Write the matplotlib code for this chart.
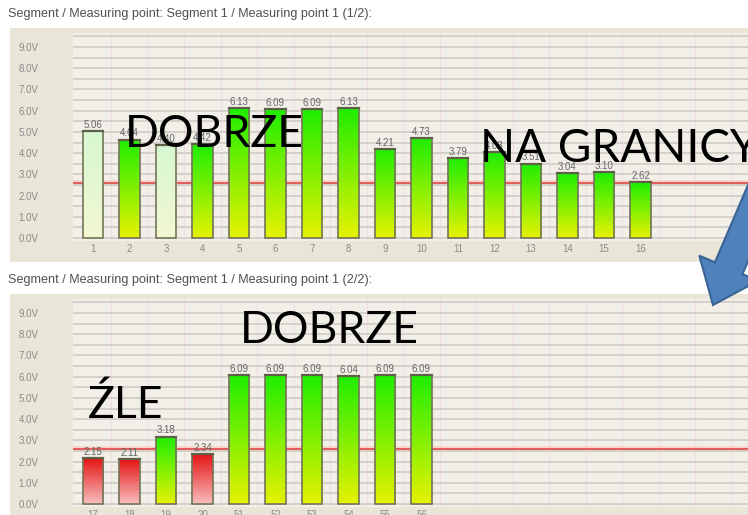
import numpy as np
import matplotlib.pyplot as plt
from matplotlib.patches import Rectangle, FancyArrow
from matplotlib.transforms import IdentityTransform

W, H = 748, 515

# page 1/2
top_labels = [str(i) for i in range(1, 17)]
top_values = [5.06, 4.64, 4.40, 4.42, 6.13, 6.09, 6.09, 6.13,
              4.21, 4.73, 3.79, 4.03, 3.51, 3.04, 3.10, 2.62]
top_status = ['pale', 'ok', 'pale', 'ok'] + ['ok'] * 12

# page 2/2
bottom_labels = ['17', '18', '19', '20', '51', '52', '53', '54', '55', '56']
bottom_values = [2.15, 2.11, 3.18, 2.34, 6.09, 6.09, 6.09, 6.04, 6.09, 6.09]
bottom_status = ['bad', 'bad', 'ok', 'bad'] + ['ok'] * 6

threshold = 2.6

GRAD = {
    'ok': ((0.12, 0.93, 0.0), (0.90, 0.95, 0.0)),
    'pale': ((0.84, 0.97, 0.82), (0.95, 0.97, 0.82)),
    'bad': ((0.90, 0.08, 0.08), (0.97, 0.74, 0.74)),
}


def fx(x):
    return x / W


def fy(y):
    return 1 - y / H


def draw_panel(off, title, labels, values, status):
    # panel background + title
    fig.add_artist(Rectangle((fx(10), fy(262 + off)), fx(738), (262 - 28) / H,
                             transform=fig.transFigure, fc='#e9e6d8', ec='none', zorder=-2))
    fig.text(fx(8), fy(14 + off), title, fontsize=9.1, color='#505050',
             family='Liberation Sans', va='center', ha='left')

    ax = fig.add_axes([fx(73), fy(241 + off), fx(748 - 73), (241 - 33) / H])
    ax.set_facecolor('#f1efe8')

    ax.set_yticks(np.arange(0, 10, 1.0))
    ax.set_yticklabels(['%.1fV' % v for v in np.arange(0, 10, 1.0)])
    ax.set_yticks(np.arange(0.5, 10, 1.0), minor=True)
    ax.grid(axis='y', which='both', color='#d0cec6', lw=1.3, zorder=0)
    for xv in np.arange(1.5, 19, 1.0):
        ax.axvline(xv, color='#f3dde3', lw=0.8, zorder=0.5)

    x = np.arange(1, len(values) + 1)
    ax.set_xticks(x)
    ax.set_xticklabels(labels)
    ax.tick_params(which='both', length=0, labelsize=7, labelcolor='#8a8a8a')
    ax.tick_params(axis='y', pad=25)
    ax.tick_params(axis='x', pad=2)
    for lab in ax.get_xticklabels() + ax.get_yticklabels():
        lab.set_family('Liberation Sans')
    for s in ax.spines.values():
        s.set_visible(False)

    ax.axhline(threshold, color='#f6d4c8', lw=4, zorder=1)
    ax.axhline(threshold, color='#e04848', lw=1.2, zorder=1.1)

    w = 0.55
    for xi, v, st in zip(x, values, status):
        c_top, c_bot = GRAD[st]
        t = np.linspace(0, 1, 64)[:, None]
        img = (np.array(c_top)[None, :] * (1 - t) + np.array(c_bot)[None, :] * t)[:, None, :]
        ax.imshow(img, extent=(xi - w / 2, xi + w / 2, 0, v), aspect='auto',
                  origin='upper', zorder=2, interpolation='bilinear')
        ax.add_patch(Rectangle((xi - w / 2, 0), w, v, fc='none', ec='#74745a',
                               lw=1.2, zorder=3))
        ax.plot([xi - w / 2, xi + w / 2], [v, v], color='#5f6048', lw=1.6, zorder=3.5)
        ax.text(xi, v + 0.05, '%.2f' % v, ha='center', va='bottom', fontsize=7,
                color='#666666', family='Liberation Sans', zorder=4)

    # 0V at y=238, 21.2 px per volt, bar 1 at x=93, 36.5 px per bar
    ax.set_ylim(-3 / 21.2, 9 + (47 - 33) / 21.2)
    ax.set_xlim(1 - 20 / 36.5, 1 + (748 - 93) / 36.5)
    return ax


fig = plt.figure(figsize=(W / 100, H / 100), dpi=100)
fig.patch.set_facecolor('white')

draw_panel(0, 'Segment / Measuring point: Segment 1 / Measuring point 1 (1/2):',
           top_labels, top_values, top_status)
draw_panel(266, 'Segment / Measuring point: Segment 1 / Measuring point 1 (2/2):',
           bottom_labels, bottom_values, bottom_status)

# overlay captions
big = dict(family=['Lato', 'DejaVu Sans'], color='black', va='baseline', ha='left', zorder=6)
fig.text(fx(125), fy(147), 'DOBRZE', fontsize=32, **big)
fig.text(fx(480), fy(162), 'NA GRANICY', fontsize=33, **big)
fig.text(fx(240), fy(343), 'DOBRZE', fontsize=32, **big)
fig.text(fx(88), fy(418), 'ŹLE', fontsize=32, **big)

# blue block arrow (pixel coordinates, origin bottom-left)
arrow = FancyArrow(775, H - 160, -62, -145, width=30, head_width=64, head_length=40,
                   length_includes_head=True, fc='#4f81bd', ec='#3a6494', lw=1.5,
                   transform=IdentityTransform(), zorder=7)
fig.add_artist(arrow)

fig.savefig('out.png', dpi=100)
